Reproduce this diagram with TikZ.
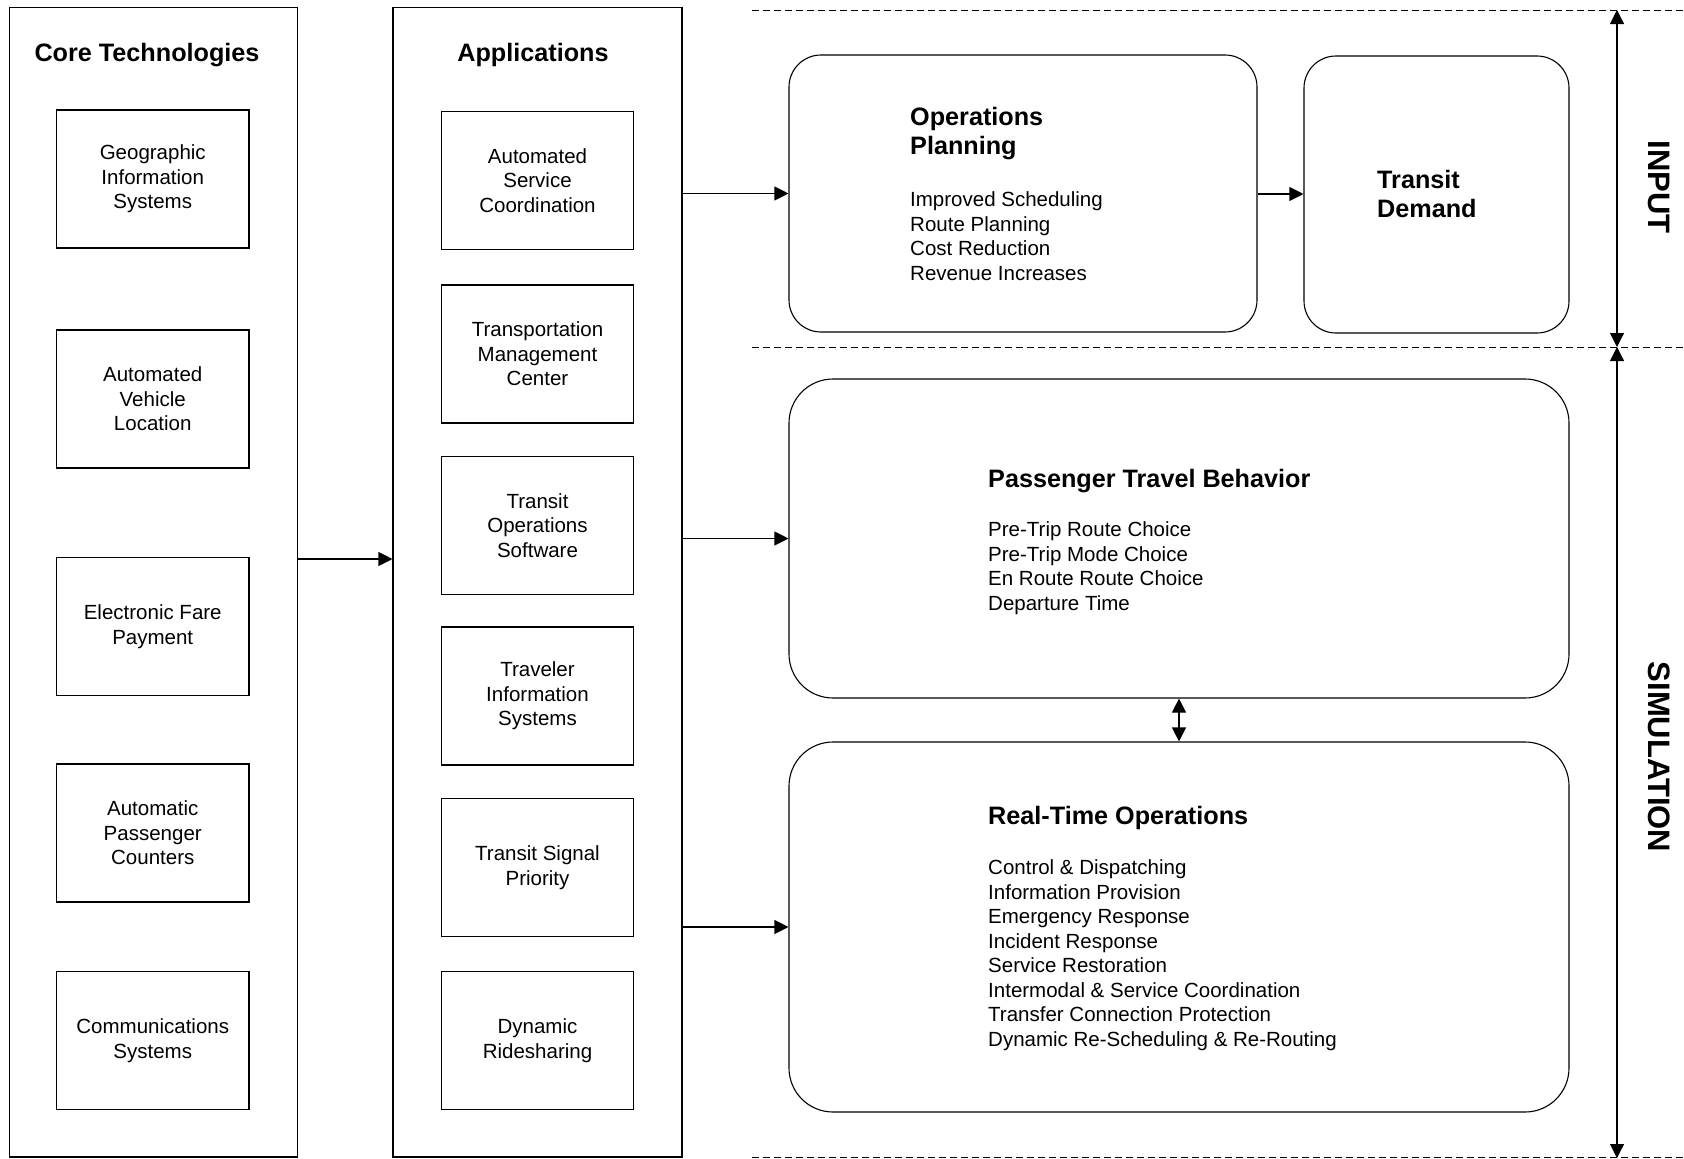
\documentclass[tikz,border=0pt]{standalone}
\usepackage{fontspec}
\setmainfont{Liberation Sans}
\usetikzlibrary{arrows.meta}
\newcommand{\bodysize}{\fontsize{20.5}{24.5}\selectfont}
\newcommand{\headsize}{\fontsize{25.2}{29}\selectfont\bfseries}
\newcommand{\sidesize}{\fontsize{31}{36}\selectfont\bfseries}
\newcommand{\lines}[1]{\begin{tabular}[t]{@{}l@{}}#1\end{tabular}}

\begin{document}
\begin{tikzpicture}[x=1pt,y=-1pt,
  colbox/.style={draw,line width=1.1pt,inner sep=0pt,minimum height=1149.5pt},
  techbox/.style={draw,line width=1.1pt,inner sep=0pt,minimum width=192.5pt,
    minimum height=138pt,align=center,font=\bodysize},
  roundbox/.style={draw,line width=1.1pt,inner sep=0pt,rounded corners=#1},
  coltitle/.style={anchor=base,inner sep=0pt,font=\headsize},
  heading/.style={anchor=base west,inner sep=0pt,font=\headsize},
  items/.style={anchor=base west,inner sep=0pt,font=\bodysize},
  sidelabel/.style={rotate=-90,inner sep=0pt,font=\sidesize},
  tip/.style={Triangle[length=14pt,width=14pt]},
  arr/.style={line width=1.1pt,-{Triangle[length=14pt,width=14pt]}},
  darr/.style={line width=1.1pt,{Triangle[length=14pt,width=14pt]}-{Triangle[length=14pt,width=14pt]}},
  divider/.style={line width=1pt,dash pattern=on 7pt off 4pt}]

\useasboundingbox (0,0) rectangle (1684,1159);

% --- left column: core technologies ---
\node[colbox,minimum width=288pt] (core) at (153.5,582.25) {};
\node[coltitle] (coretitle) at (147,61) {Core Technologies};
\node[techbox] (gis)  at (152.75,179)   {Geographic\\Information\\Systems};
\node[techbox] (avl)  at (152.75,399)   {Automated\\Vehicle\\Location};
\node[techbox] (efp)  at (152.75,626.5) {Electronic Fare\\Payment};
\node[techbox] (apc)  at (152.75,833)   {Automatic\\Passenger\\Counters};
\node[techbox] (comm) at (152.75,1040.5){Communications\\Systems};

% --- middle column: applications ---
\node[colbox,minimum width=289pt] (apps) at (537.5,582.25) {};
\node[coltitle] (appstitle) at (533,61) {Applications};
\node[techbox] (asc) at (537.5,180.5)  {Automated\\Service\\Coordination};
\node[techbox] (tmc) at (537.5,354)    {Transportation\\Management\\Center};
\node[techbox] (tos) at (537.5,525.5)  {Transit\\Operations\\Software};
\node[techbox] (tis) at (537.5,696)    {Traveler\\Information\\Systems};
\node[techbox] (tsp) at (537.5,867.5)  {Transit Signal\\Priority};
\node[techbox] (dr)  at (537.5,1040.5) {Dynamic\\Ridesharing};

% --- right side: planning, demand and simulation blocks ---
\node[roundbox=32pt,minimum width=468pt,minimum height=277pt] (op) at (1023,193.5) {};
\node[heading] (optitle) at (910,125) {\lines{Operations\\Planning}};
\node[items] (opitems) at (910,206.7)
  {\lines{Improved Scheduling\\Route Planning\\Cost Reduction\\Revenue Increases}};

\node[roundbox=32pt,minimum width=265pt,minimum height=277pt] (td) at (1436.5,194.5) {};
\node[heading] (tdtitle) at (1377,188) {\lines{Transit\\Demand}};

\node[roundbox=44pt,minimum width=780pt,minimum height=319pt] (ptb) at (1179,538.5) {};
\node[heading] (ptbtitle) at (988,487) {Passenger Travel Behavior};
\node[items] (ptbitems) at (988,536.5)
  {\lines{Pre-Trip Route Choice\\Pre-Trip Mode Choice\\En Route Route Choice\\Departure Time}};

\node[roundbox=44pt,minimum width=780pt,minimum height=370pt] (rto) at (1179,927) {};
\node[heading] (rtotitle) at (988,824) {Real-Time Operations};
\node[items] (rtoitems) at (988,874.7)
  {\lines{Control \& Dispatching\\Information Provision\\Emergency Response\\Incident Response\\
  Service Restoration\\Intermodal \& Service Coordination\\Transfer Connection Protection\\
  Dynamic Re-Scheduling \& Re-Routing}};

% --- connectors ---
\coordinate (c2a) at (0,559);
\coordinate (link) at (1179,0);
\draw[arr] (core.east |- c2a) -- (apps.west |- c2a);
\draw[arr] (apps.east |- op.west) -- (op.west);
\draw[arr] (apps.east |- ptb.west) -- (ptb.west);
\draw[arr] (apps.east |- rto.west) -- (rto.west);
\draw[arr] (op.east |- 0,194) -- (td.west |- 0,194);
\draw[darr] (ptb.south -| link) -- (rto.north -| link);

% --- phase dividers and phase arrows ---
\coordinate (dtl) at (752,10);
\coordinate (dtr) at (1684,10);
\coordinate (dml) at (752,347);
\coordinate (dmr) at (1684,347);
\coordinate (dbl) at (752,1157.5);
\coordinate (dbr) at (1684,1157.5);
\draw[divider] (dtl) -- (dtr);
\draw[divider] (dml) -- (dmr);
\draw[divider] (dbl) -- (dbr);

\coordinate (ptop) at (1617,10);
\coordinate (pmid) at (1617,347);
\coordinate (pbot) at (1617,1158);
\draw[darr] (pmid) -- (ptop);
\draw[darr] (pmid) -- (pbot);

\node[sidelabel] (input) at (1659,187) {INPUT};
\node[sidelabel] (simulation) at (1659,757) {SIMULATION};
\end{tikzpicture}
\end{document}
